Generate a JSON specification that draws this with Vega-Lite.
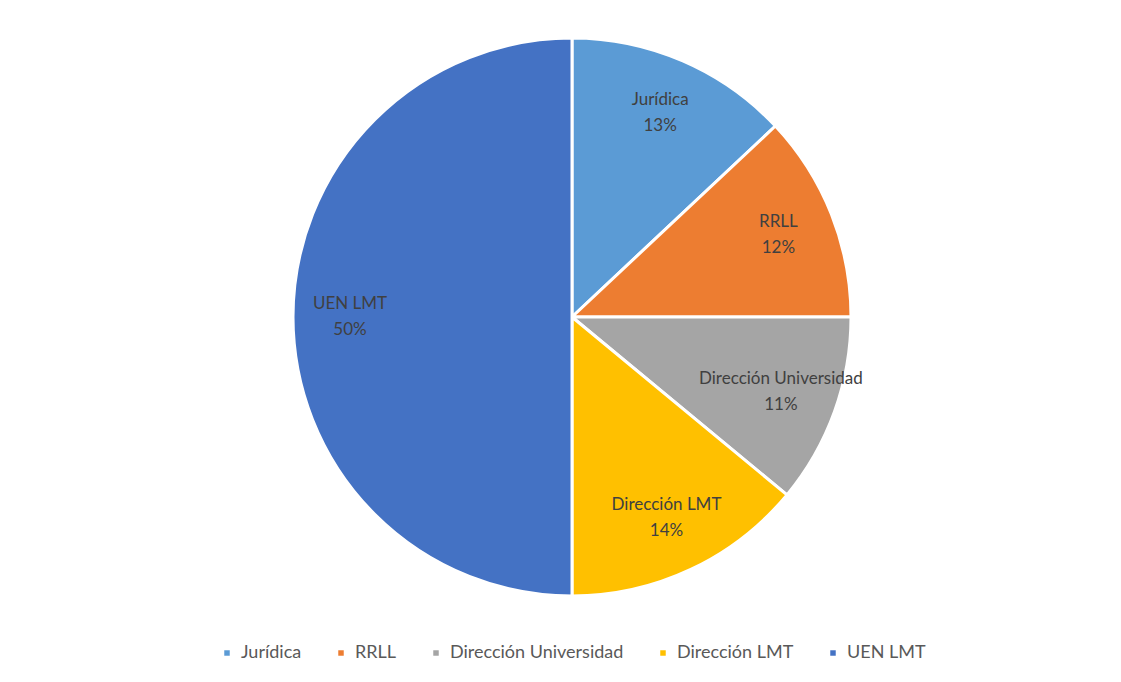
{
  "$schema": "https://vega.github.io/schema/vega-lite/v6.json",
  "width": 1098,
  "height": 634,
  "padding": {"left": 23, "top": 0, "right": 0, "bottom": 0},
  "background": "white",
  "config": {
    "view": {"stroke": null},
    "font": "Lato",
    "legend": {"layout": {"bottom": {"anchor": "middle"}}}
  },
  "data": {
    "values": [
      {"area": "Jurídica", "share": 0.13, "order": 1},
      {"area": "RRLL", "share": 0.12, "order": 2},
      {"area": "Dirección Universidad", "share": 0.11, "order": 3},
      {"area": "Dirección LMT", "share": 0.14, "order": 4},
      {"area": "UEN LMT", "share": 0.50, "order": 5}
    ]
  },
  "encoding": {
    "theta": {"field": "share", "type": "quantitative", "stack": true},
    "order": {"field": "order", "type": "quantitative"}
  },
  "layer": [
    {
      "mark": {"type": "arc", "outerRadius": 279, "stroke": "white", "strokeWidth": 3},
      "encoding": {
        "color": {
          "field": "area",
          "type": "nominal",
          "sort": null,
          "scale": {
            "domain": ["Jurídica", "RRLL", "Dirección Universidad", "Dirección LMT", "UEN LMT"],
            "range": ["#5B9BD5", "#ED7D31", "#A5A5A5", "#FFC000", "#4472C4"]
          },
          "legend": {
            "title": null,
            "orient": "bottom",
            "direction": "horizontal",
            "symbolType": "square",
            "symbolSize": 30,
            "symbolStrokeWidth": 0,
            "labelFontSize": 18,
            "labelLimit": 0,
            "labelColor": "#595959",
            "labelFont": "Lato",
            "columnPadding": 30,
            "labelOffset": 5,
            "offset": 10
          }
        }
      }
    },
    {
      "mark": {"type": "text", "radius": 222, "dy": -13, "fontSize": 17, "color": "#404040", "font": "Lato"},
      "encoding": {"text": {"field": "area", "type": "nominal"}}
    },
    {
      "mark": {"type": "text", "radius": 222, "dy": 13, "fontSize": 17, "color": "#404040", "font": "Lato"},
      "encoding": {"text": {"field": "share", "type": "quantitative", "format": ".0%"}}
    }
  ]
}
